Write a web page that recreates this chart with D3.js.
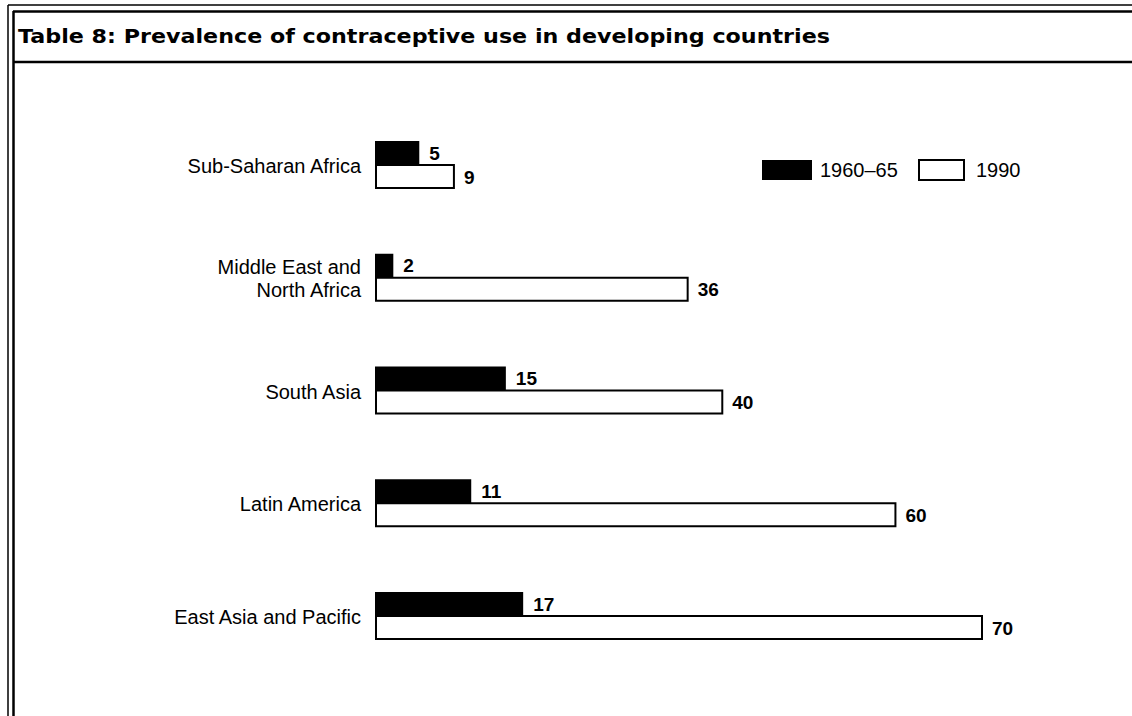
<!DOCTYPE html>
<html>
<head>
<meta charset="utf-8">
<script src="https://cdn.jsdelivr.net/npm/d3@7"></script>
<style>
	body { margin: 0; background: #fff; }
	svg { display: block; }
	text { font-family: 'Liberation Sans', Arial, sans-serif; fill: #000; }
</style>
</head>
<body>
<div id="chart"></div>
<script>
//------------------ DATA -------------------
var regions = ['Sub-Saharan Africa', 'Middle East and\nNorth Africa', 'South Asia', 'Latin America', 'East Asia and Pacific'];
var vals_6065 = [5, 2, 15, 11, 17];
var vals_1990 = [9, 36, 40, 60, 70];
var series_names = ['1960\u201365', '1990'];
var title_text = 'Table 8: Prevalence of contraceptive use in developing countries';

var width = 1132;
var height = 716;
var bar_h = 24;

var svg = d3.select('#chart').append('svg')
	.attr('width', width)
	.attr('height', height);

// frame lines
var frame = svg.append('g').attr('fill', 'none').attr('stroke', '#000');
frame.append('line').attr('x1', 8).attr('y1', 5).attr('x2', width).attr('y2', 5).attr('stroke-width', 1.5);
frame.append('line').attr('x1', 13).attr('y1', 11.5).attr('x2', width).attr('y2', 11.5).attr('stroke-width', 2.5);
frame.append('line').attr('x1', 8).attr('y1', 5).attr('x2', 8).attr('y2', height).attr('stroke-width', 1.5);
frame.append('line').attr('x1', 13.5).attr('y1', 11).attr('x2', 13.5).attr('y2', height).attr('stroke-width', 2.5);
frame.append('line').attr('x1', 13).attr('y1', 62).attr('x2', width).attr('y2', 62).attr('stroke-width', 2.5);

// title: wider bold face, stretched to the reference width
svg.append('text')
	.attr('x', 18)
	.attr('y', 43)
	.attr('textLength', 812)
	.attr('lengthAdjust', 'spacingAndGlyphs')
	.style('font-family', "'DejaVu Sans', sans-serif")
	.style('font-size', '20px')
	.style('font-weight', 'bold')
	.text(title_text);

// scales
var xScale = d3.scaleLinear()
	.domain([0, 70])
	.range([376, 982]);

var yScale = d3.scaleBand()
	.domain(regions)
	.range([141, 141 + 112.75 * 5])
	.paddingInner(0);

var groups = svg.selectAll('g.region').data(regions).enter().append('g')
	.attr('class', 'region')
	.attr('transform', function (d) { return 'translate(0,' + yScale(d) + ')'; });

// 1990 bars (outlined)
groups.append('rect')
	.attr('x', xScale(0))
	.attr('y', bar_h)
	.attr('width', function (d, i) { return xScale(vals_1990[i]) - xScale(0); })
	.attr('height', bar_h - 1)
	.attr('fill', '#fff')
	.attr('stroke', '#000')
	.attr('stroke-width', 2);

// 1960-65 bars (solid)
groups.append('rect')
	.attr('x', xScale(0) - 1)
	.attr('y', 0)
	.attr('width', function (d, i) { return xScale(vals_6065[i]) - xScale(0) + 1; })
	.attr('height', bar_h)
	.attr('fill', '#000');

// value labels
groups.append('text')
	.attr('x', function (d, i) { return xScale(vals_6065[i]) + 10; })
	.attr('y', bar_h / 2)
	.attr('dy', '0.35em')
	.style('font-size', '19px')
	.style('font-weight', 'bold')
	.text(function (d, i) { return vals_6065[i]; });

groups.append('text')
	.attr('x', function (d, i) { return xScale(vals_1990[i]) + 10; })
	.attr('y', bar_h * 1.5)
	.attr('dy', '0.35em')
	.style('font-size', '19px')
	.style('font-weight', 'bold')
	.text(function (d, i) { return vals_1990[i]; });

// category labels
groups.append('text')
	.attr('text-anchor', 'end')
	.style('font-size', '20px')
	.each(function (d) {
		var lines = d.split('\n');
		var t = d3.select(this);
		lines.forEach(function (ln, k) {
			t.append('tspan')
				.attr('x', 361)
				.attr('y', bar_h + 1 + (k - (lines.length - 1) / 2) * 23)
				.attr('dy', '0.35em')
				.text(ln);
		});
	});

// legend
var legend = svg.append('g').attr('transform', 'translate(762,160)');
var legend_x = [0, 156];
series_names.forEach(function (name, i) {
	legend.append('rect')
		.attr('x', legend_x[i] + (i ? 1 : 0))
		.attr('y', 0)
		.attr('width', i ? 45 : 50)
		.attr('height', 20)
		.attr('fill', i ? '#fff' : '#000')
		.attr('stroke', i ? '#000' : 'none')
		.attr('stroke-width', 2);
	legend.append('text')
		.attr('x', legend_x[i] + 58)
		.attr('y', 10)
		.attr('dy', '0.35em')
		.style('font-size', '20px')
		.text(name);
});
</script>
</body>
</html>
